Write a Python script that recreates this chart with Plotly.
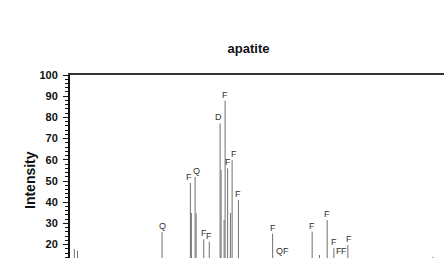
import plotly.graph_objects as go

# Peak positions (2-theta, deg), intensities (%) and phase labels
peak_pos = [10.69, 11.20, 24.72, 29.25, 29.41, 30.00, 30.16, 31.39, 32.27,
            34.00, 34.16, 34.64, 34.80, 35.20, 35.65, 35.92, 36.93,
            42.40, 43.52, 44.56, 48.72, 49.89, 51.12, 52.19, 52.72,
            53.28, 53.79, 54.43, 68.03]
peak_int = [17.9, 17.2, 25.9, 49.1, 34.9, 51.9, 34.9, 22.5, 21.4,
            77.2, 55.2, 31.6, 87.9, 56.0, 34.9, 59.8, 41.0,
            25.2, 12.0, 12.0, 26.1, 15.1, 31.6, 18.3, 12.5,
            12.0, 12.0, 19.8, 14.2]
peak_lab = ["", "", "Q", "F", "", "Q", "", "F", "F",
            "D", "", "", "F", "F", "", "F", "F",
            "F", "Q", "F", "F", "", "F", "F", "",
            "F", "F", "F", ""]

y_ticks = [20, 30, 40, 50, 60, 70, 80, 90, 100]

Y_MIN, Y_MAX = 13.7, 100
X_MIN, X_MAX = 10, 69.8
W, H = 444, 258
ML, MT = 70, 75

xs, ys = [], []
for p, v in zip(peak_pos, peak_int):
    xs += [p, p, None]
    ys += [0, v, None]

fig = go.Figure()
fig.add_trace(go.Scatter(x=xs, y=ys, mode="lines",
                         line=dict(color="#707070", width=1),
                         hoverinfo="skip", showlegend=False))

labelled = [i for i, lab in enumerate(peak_lab) if lab]
for k, i in enumerate(labelled):
    p, v, lab = peak_pos[i], peak_int[i], peak_lab[i]
    ay = max(v, Y_MIN)
    ys_shift = -1 if v >= Y_MIN else 0
    xs_shift = 0
    # nudge labels of very close neighbouring labelled peaks apart
    if k + 1 < len(labelled) and peak_pos[labelled[k + 1]] - p < 0.8:
        xs_shift -= 1.5
    if k > 0 and p - peak_pos[labelled[k - 1]] < 0.8:
        xs_shift += 1.5
    fig.add_annotation(x=p, y=ay, text=lab, showarrow=False,
                       xanchor="center", yanchor="bottom",
                       yshift=ys_shift, xshift=xs_shift,
                       font=dict(family="Liberation Sans", size=9, color="#333"))

fig.add_annotation(xref="paper", yref="paper", x=0, y=(H - 180) / (H - MT),
                   xshift=-40, text="<b>Intensity</b>", textangle=-90,
                   showarrow=False, xanchor="center", yanchor="middle",
                   font=dict(family="Liberation Sans", size=14, color="#111"))

fig.update_layout(
    width=W, height=H,
    margin=dict(l=ML, r=0, t=MT, b=0, pad=0),
    paper_bgcolor="white", plot_bgcolor="white",
    title=dict(text="<b>apatite</b>", x=248.5 / W, xref="container", xanchor="center",
               y=1 - 48 / H, yref="container", yanchor="middle",
               font=dict(family="Liberation Sans", size=13, color="#111")),
    xaxis=dict(range=[X_MIN, X_MAX], side="top", showline=True, linewidth=2,
               linecolor="#333", showgrid=False, zeroline=False,
               showticklabels=False, ticks=""),
    yaxis=dict(range=[Y_MIN, Y_MAX], showline=True, linewidth=2, linecolor="#111",
               showgrid=False, zeroline=False, tickmode="array", tickvals=y_ticks,
               ticks="outside", ticklen=5, tickwidth=1, tickcolor="#111",
               minor=dict(ticks="outside", ticklen=3, tickwidth=1, dtick=2,
                          tick0=0, tickcolor="#111", showgrid=False),
               tickfont=dict(family="Liberation Sans", size=11, color="#111",
                             weight="bold"),
               ticklabelstandoff=3),
)

fig.write_html("out.html")
